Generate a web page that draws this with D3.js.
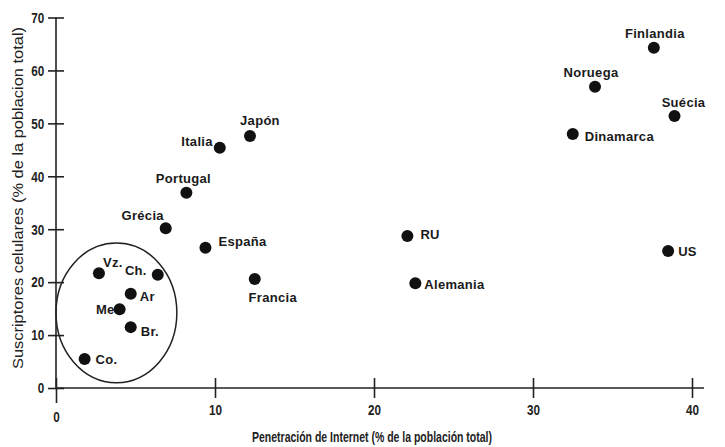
<!DOCTYPE html>
<html>
  <head>
    <meta charset="utf-8">
    <title>Celulares e Internet</title>
    <script src="https://cdn.jsdelivr.net/npm/d3@7/dist/d3.min.js"></script>
    <style type="text/css">

html, body {
  margin: 0;
  background: #fff;
}

svg {
  display: block;
}

.axis path, .axis line {
  stroke: #222;
  stroke-width: 1.6;
}

.axis text {
  font: bold 15px "Liberation Sans", Arial, sans-serif;
  fill: #222;
}

.label {
  font: bold 13px "Liberation Sans", Arial, sans-serif;
  letter-spacing: 0.3px;
  fill: #1a1a1a;
}

.title {
  fill: #222;
}

    </style>
  </head>
  <body>
    <script type="text/javascript">

// datos
var countries = ["Finlandia", "Noruega", "Suécia", "Dinamarca", "Japón", "Italia", "Portugal",
  "Grécia", "España", "Francia", "RU", "Alemania", "US", "Vz.", "Ch.", "Ar", "Me", "Br.", "Co."];
var internet = [37.6, 33.9, 38.9, 32.5, 12.2, 10.3, 8.2, 6.9, 9.4, 12.5, 22.1, 22.6, 38.5,
  2.7, 6.4, 4.7, 4.0, 4.7, 1.8];
var celulares = [64.3, 56.9, 51.4, 48.0, 47.6, 45.4, 36.9, 30.2, 26.5, 20.6, 28.7, 19.8, 25.9,
  21.7, 21.4, 17.8, 14.9, 11.5, 5.5];
var xTicks = [0, 10, 20, 30, 40];
var yTicks = [0, 10, 20, 30, 40, 50, 60, 70];

// grupo latinoamericano (centro y radios en unidades de los ejes)
var grupo = { cx: 3.8, cy: 14.2, rx: 3.8, ry: 13.2 };

// donde va cada etiqueta respecto a su punto: [dx, dy, anchor]
var labelPos = {
  "Finlandia": [1, -14, "middle"], "Noruega": [-4, -14, "middle"], "Suécia": [9, -13, "middle"],
  "Dinamarca": [12, 3, "start"], "Japón": [10, -16, "middle"], "Italia": [-7, -6, "end"],
  "Portugal": [-3, -14, "middle"], "Grécia": [-23, -13, "middle"], "España": [13, -6, "start"],
  "Francia": [18, 18, "middle"], "RU": [13, -2, "start"], "Alemania": [9, 1, "start"],
  "US": [10, 1, "start"], "Vz.": [4, -11, "start"], "Ch.": [-11, -4, "end"],
  "Ar": [9, 3, "start"], "Me": [-5, 0, "end"], "Br.": [10, 4, "start"], "Co.": [11, 1, "start"]
};

var width = 725, height = 447;

var x = d3.scaleLinear().domain([0, 40]).range([56, 692]);
var y = d3.scaleLinear().domain([0, 70]).range([388, 17.5]);

var svg = d3.select("body").append("svg")
    .attr("width", width)
    .attr("height", height);

// eje x
var gx = svg.append("g")
    .attr("class", "axis")
    .attr("transform", "translate(0," + y(0) + ")")
    .call(d3.axisBottom(x).tickValues(xTicks).tickSize(10).tickSizeOuter(0).tickPadding(14));
gx.select(".domain").attr("d", "M" + x(0) + ",0H704");
gx.selectAll(".tick line").attr("y1", -10);
gx.selectAll(".tick text").attr("transform", "scale(0.78,1)")
    .attr("x", 0).attr("y", 16);
gx.selectAll(".tick").filter(function(d) { return d === 0; })
  .select("text").attr("dy", "1.2em");
gx.selectAll(".tick").filter(function(d) { return d === 0; })
  .select("line").attr("y2", 15);

// eje y
var gy = svg.append("g")
    .attr("class", "axis")
    .attr("transform", "translate(" + x(0) + ",0)")
    .call(d3.axisLeft(y).tickValues(yTicks).tickSize(8).tickSizeOuter(0).tickPadding(4));
gy.selectAll(".tick line").attr("x1", 8);
gy.selectAll(".tick text").attr("transform", "scale(0.78,1)")
    .attr("x", -15);
gy.select(".domain").attr("d", "M0," + y(70) + "V" + y(0));

// titulos
svg.append("text")
    .attr("class", "title")
    .attr("x", 372)
    .attr("y", 442)
    .attr("text-anchor", "middle")
    .attr("textLength", 240)
    .attr("lengthAdjust", "spacingAndGlyphs")
    .style("font", "bold 14px 'Liberation Sans', Arial, sans-serif")
    .text("Penetración de Internet (% de la población total)");

svg.append("text")
    .attr("class", "title")
    .attr("transform", "translate(23," + 198 + ") rotate(-90)")
    .attr("text-anchor", "middle")
    .attr("textLength", 342)
    .attr("lengthAdjust", "spacingAndGlyphs")
    .style("font", "14.5px 'Liberation Sans', Arial, sans-serif")
    .text("Suscriptores celulares (% de la poblacion total)");

// ovalo
svg.append("ellipse")
    .attr("cx", x(grupo.cx))
    .attr("cy", y(grupo.cy))
    .attr("rx", x(grupo.rx) - x(0))
    .attr("ry", y(0) - y(grupo.ry))
    .style("fill", "none")
    .style("stroke", "#222")
    .style("stroke-width", 1.5);

var rows = countries.map(function(c, i) {
  return { name: c, x: internet[i], y: celulares[i] };
});

svg.selectAll("circle.dot")
    .data(rows)
  .enter().append("circle")
    .attr("class", "dot")
    .attr("cx", function(d) { return x(d.x); })
    .attr("cy", function(d) { return y(d.y); })
    .attr("r", 6)
    .style("fill", "#111");

svg.selectAll("text.label")
    .data(rows)
  .enter().append("text")
    .attr("class", "label")
    .attr("x", function(d) { return x(d.x) + labelPos[d.name][0]; })
    .attr("y", function(d) { return y(d.y) + labelPos[d.name][1]; })
    .attr("dy", "0.35em")
    .attr("text-anchor", function(d) { return labelPos[d.name][2]; })
    .text(function(d) { return d.name; });

    </script>
  </body>
</html>
